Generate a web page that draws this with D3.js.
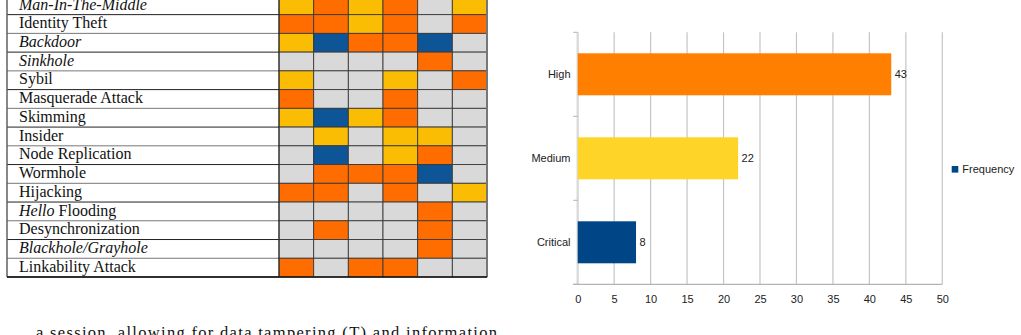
<!DOCTYPE html>
<html>
<head>
<meta charset="utf-8">
<script src="https://cdn.jsdelivr.net/npm/d3@7"></script>
<style>
  html, body { margin: 0; padding: 0; background: #fff; }
  svg { display: block; }
</style>
</head>
<body>
<svg id="page" width="1021" height="335"></svg>
<script>
// table: attack names (*...* marks italic) and the level of each cell
const attacks = [
  "*Man-In-The-Middle*", "Identity Theft", "*Backdoor*", "*Sinkhole*", "Sybil",
  "Masquerade Attack", "Skimming", "Insider", "Node Replication", "Wormhole",
  "Hijacking", "*Hello* Flooding", "Desynchronization", "*Blackhole/Grayhole*",
  "Linkability Attack"
];
const tableColumns = ["c1", "c2", "c3", "c4", "c5", "c6"];
// Y = yellow, O = orange, B = blue, G = gray (not applicable)
const cellLevels = [
  ["Y", "O", "Y", "O", "G", "Y"],
  ["O", "O", "Y", "O", "G", "O"],
  ["Y", "B", "O", "O", "B", "G"],
  ["G", "G", "G", "G", "O", "G"],
  ["Y", "G", "G", "Y", "G", "O"],
  ["O", "G", "G", "O", "G", "G"],
  ["Y", "B", "Y", "O", "G", "G"],
  ["G", "Y", "G", "Y", "Y", "G"],
  ["G", "B", "G", "Y", "O", "G"],
  ["G", "O", "O", "O", "B", "G"],
  ["O", "O", "G", "O", "G", "Y"],
  ["G", "G", "G", "G", "O", "G"],
  ["G", "O", "G", "G", "O", "G"],
  ["G", "G", "G", "G", "O", "G"],
  ["O", "G", "O", "O", "G", "G"]
];

// bar chart
const severities = ["High", "Medium", "Critical"];
const frequencies = [43, 22, 8];
const severityColors = ["#ff8000", "#ffd428", "#004586"];
const xTicks = [0, 5, 10, 15, 20, 25, 30, 35, 40, 45, 50];
const legendLabel = "Frequency";

const bodyLine = "a session, allowing for data tampering (T) and information";
const captionLine = "Fig. 4: Frequency of the severity levels of the privacy and security threats";

const svg = d3.select("#page");
const serif = "'Liberation Serif', 'Times New Roman', serif";

/* ---------- table ---------- */
const levelColor = d3.scaleOrdinal()
  .domain(["Y", "O", "B", "G"])
  .range(["#fbbc04", "#ff6d00", "#0d5597", "#d9d9d9"]);

const rowY = d3.scaleBand().domain(attacks).range([-4.1, 277]);
const colX = d3.scaleBand().domain(tableColumns).range([279, 487]);
const tableLeft = 7;

const table = svg.append("g");

// label column lines
table.append("g").selectAll("line").data(attacks).join("line")
  .attr("x1", tableLeft).attr("x2", 279)
  .attr("y1", d => rowY(d) + rowY.bandwidth())
  .attr("y2", d => rowY(d) + rowY.bandwidth())
  .attr("stroke", (d, i) => i % 2 ? "#777" : "#222")
  .attr("stroke-width", 1);

const cells = [];
attacks.forEach((a, i) => tableColumns.forEach((c, j) =>
  cells.push({ row: a, col: c, level: cellLevels[i][j] })));

table.append("g").selectAll("rect").data(cells).join("rect")
  .attr("x", d => colX(d.col))
  .attr("y", d => rowY(d.row))
  .attr("width", colX.bandwidth())
  .attr("height", rowY.bandwidth())
  .attr("fill", d => levelColor(d.level))
  .attr("stroke", "#3a3a3a")
  .attr("stroke-width", 0.9);

// outer borders
table.append("line")
  .attr("x1", tableLeft).attr("x2", tableLeft)
  .attr("y1", rowY.range()[0]).attr("y2", rowY.range()[1])
  .attr("stroke", "#555").attr("stroke-width", 1.4);
table.append("line")
  .attr("x1", colX.range()[1]).attr("x2", colX.range()[1])
  .attr("y1", rowY.range()[0]).attr("y2", rowY.range()[1])
  .attr("stroke", "#777").attr("stroke-width", 2);
table.append("line")
  .attr("x1", tableLeft).attr("x2", colX.range()[1])
  .attr("y1", rowY.range()[1]).attr("y2", rowY.range()[1])
  .attr("stroke", "#111").attr("stroke-width", 1.4);
table.append("line")
  .attr("x1", 279).attr("x2", 279)
  .attr("y1", rowY.range()[0]).attr("y2", rowY.range()[1])
  .attr("stroke", "#222").attr("stroke-width", 1);

// labels, *...* parts in italics
const label = table.append("g").selectAll("text").data(attacks).join("text")
  .attr("x", 19)
  .attr("y", d => rowY(d) + 13.6)
  .attr("font-family", serif)
  .attr("font-size", 16)
  .attr("fill", "#111");
label.each(function (d) {
  const parts = d.split(/(\*[^*]+\*)/).filter(s => s.length);
  const t = d3.select(this);
  parts.forEach(p => {
    const it = p.startsWith("*");
    t.append("tspan")
      .attr("font-style", it ? "italic" : null)
      .text(it ? p.slice(1, -1) : p);
  });
});

/* ---------- body text ---------- */
svg.append("text")
  .attr("x", 36).attr("y", 338)
  .attr("textLength", 461).attr("lengthAdjust", "spacing")
  .attr("font-family", serif)
  .attr("font-size", 16.5).attr("fill", "#111")
  .text(bodyLine);

svg.append("text")
  .attr("x", 533).attr("y", -3.5)
  .attr("textLength", 337).attr("lengthAdjust", "spacing")
  .attr("font-family", serif)
  .attr("font-size", 13).attr("fill", "#888")
  .text(captionLine);

/* ---------- bar chart ---------- */
const x = d3.scaleLinear().domain([0, 50]).range([577.7, 942.3]);
const y = d3.scaleBand().domain(severities).range([32.3, 284.3])
  .paddingInner(0.5).paddingOuter(0.25);
const sansFont = "'Liberation Sans', Arial, sans-serif";

const chart = svg.append("g");

// vertical gridlines
chart.append("g").selectAll("line").data(xTicks.slice(1)).join("line")
  .attr("x1", d => x(d)).attr("x2", d => x(d))
  .attr("y1", y.range()[0]).attr("y2", y.range()[1])
  .attr("stroke", "#c4c4c4").attr("stroke-width", 1.2);

// y axis line + category ticks at band edges
chart.append("line")
  .attr("x1", x(0)).attr("x2", x(0))
  .attr("y1", y.range()[0]).attr("y2", y.range()[1])
  .attr("stroke", "#dadada").attr("stroke-width", 2.4);
const edges = severities.map(s => y(s) - y.step() * y.paddingInner() / 2)
  .concat([y.range()[1]]);
chart.append("g").selectAll("line").data(edges).join("line")
  .attr("x1", x(0) - 4.5).attr("x2", x(0))
  .attr("y1", d => d).attr("y2", d => d)
  .attr("stroke", "#b3b3b3").attr("stroke-width", 1);

// bars
chart.append("g").selectAll("rect").data(severities).join("rect")
  .attr("x", x(0))
  .attr("y", d => y(d))
  .attr("width", (d, i) => x(frequencies[i]) - x(0))
  .attr("height", y.bandwidth())
  .attr("fill", (d, i) => severityColors[i]);

// value labels
chart.append("g").selectAll("text").data(severities).join("text")
  .attr("x", (d, i) => x(frequencies[i]) + 3.5)
  .attr("y", d => y(d) + y.bandwidth() / 2)
  .attr("dy", "0.35em")
  .attr("font-family", sansFont).attr("font-size", 11).attr("fill", "#222")
  .text((d, i) => frequencies[i]);

// category labels
chart.append("g").selectAll("text").data(severities).join("text")
  .attr("x", 570.5)
  .attr("y", d => y(d) + y.bandwidth() / 2)
  .attr("dy", "0.35em")
  .attr("text-anchor", "end")
  .attr("font-family", sansFont).attr("font-size", 11).attr("fill", "#222")
  .text(d => d);

// x axis
const xAxis = chart.append("g")
  .attr("transform", `translate(0,${y.range()[1]})`)
  .call(d3.axisBottom(x).tickValues(xTicks).tickSize(0).tickPadding(10.5));
xAxis.select(".domain").remove();
xAxis.selectAll("text")
  .attr("font-family", sansFont).attr("font-size", 11).attr("fill", "#222");
chart.append("line")
  .attr("x1", x(0) - 4.5).attr("x2", x(50))
  .attr("y1", y.range()[1]).attr("y2", y.range()[1])
  .attr("stroke", "#b3b3b3").attr("stroke-width", 1.2);

// legend
const legend = chart.append("g")
  .attr("transform", `translate(951.7,${y("Medium") + y.bandwidth() / 2 + 11})`);
legend.append("rect")
  .attr("x", 0).attr("y", -3.3).attr("width", 6.6).attr("height", 6.6)
  .attr("fill", severityColors[2]);
legend.append("text")
  .attr("x", 10.6).attr("dy", "0.35em")
  .attr("font-family", sansFont).attr("font-size", 11).attr("fill", "#222")
  .text(legendLabel);
</script>
</body>
</html>
